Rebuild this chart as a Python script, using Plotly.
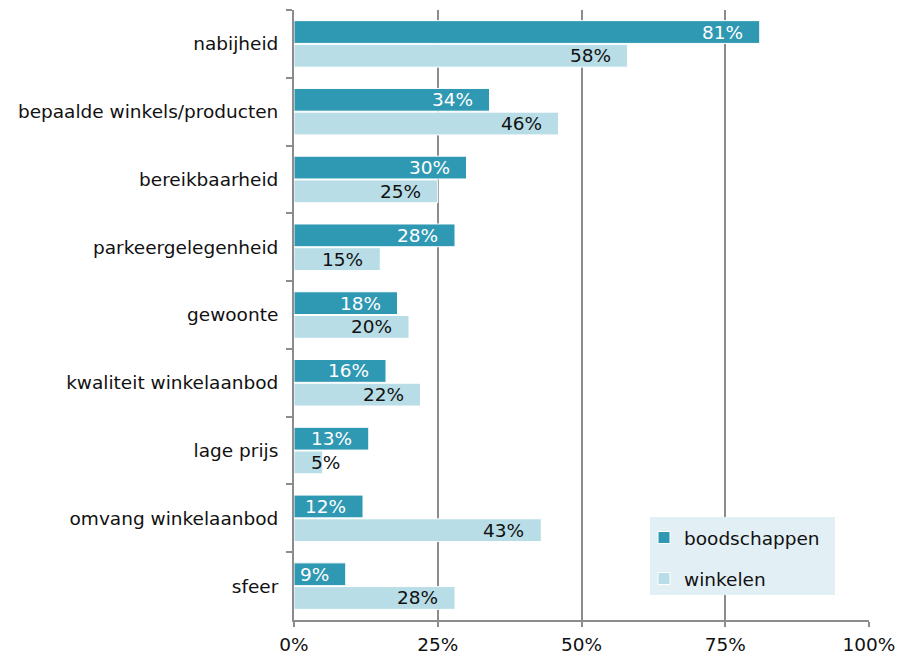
import plotly.graph_objects as go

categories = [
    "nabijheid",
    "bepaalde winkels/producten",
    "bereikbaarheid",
    "parkeergelegenheid",
    "gewoonte",
    "kwaliteit winkelaanbod",
    "lage prijs",
    "omvang winkelaanbod",
    "sfeer",
]
boodschappen = [81, 34, 30, 28, 18, 16, 13, 12, 9]
winkelen = [58, 46, 25, 15, 20, 22, 5, 43, 28]
x_ticks = [0, 25, 50, 75, 100]
x_tick_labels = ["0%", "25%", "50%", "75%", "100%"]

DARK = "#2f98b3"
LIGHT = "#b8dde6"
GRID = "#8c8c8c"
FONT = "DejaVu Sans"
FS = 18.5
BARGAP = 0.3

# plot area in pixels, used to place the legend panel
L, R, T, B = 294, 28, 10, 35
W, H = 897, 655
PW, PH = W - L - R, H - T - B


def px_x(px):
    return (px - L) / PW


def px_y(py):
    return (H - B - py) / PH


fig = go.Figure()
fig.add_trace(go.Bar(
    y=categories, x=boodschappen, orientation="h", name="boodschappen",
    marker=dict(color=DARK, line=dict(color="white", width=1)),
    legendgroup="a",
))
fig.add_trace(go.Bar(
    y=categories, x=winkelen, orientation="h", name="winkelen",
    marker=dict(color=LIGHT, line=dict(color="white", width=1)),
    legendgroup="b",
))

# value labels near the end of each bar
half = (1 - BARGAP) / 4
annotations = []
for series, sign, color in ((boodschappen, -1, "white"), (winkelen, 1, "#111111")):
    for i, v in enumerate(series):
        small = v < 8
        annotations.append(dict(
            x=0 if small else v, y=i + sign * half,
            xref="x", yref="y",
            text=f"{v}%", showarrow=False,
            xanchor="left" if small else "right",
            xshift=15 if small else -15,
            font=dict(family=FONT, size=FS, color=color),
        ))

fig.update_layout(
    width=W, height=H,
    margin=dict(l=L, r=R, t=T, b=B, autoexpand=False),
    paper_bgcolor="white", plot_bgcolor="white",
    barmode="group", bargap=BARGAP, bargroupgap=0.04,
    font=dict(family=FONT, size=FS, color="#111111"),
    annotations=annotations,
    shapes=[dict(
        type="rect", xref="paper", yref="paper",
        x0=px_x(650), x1=px_x(835), y0=px_y(595), y1=px_y(517),
        fillcolor="#e2f0f5", line=dict(width=0), layer="above",
    )],
    showlegend=True,
    legend=dict(
        x=px_x(644), y=px_y(519), xanchor="left", yanchor="top",
        bgcolor="rgba(0,0,0,0)", borderwidth=0,
        font=dict(family=FONT, size=FS, color="#111111"),
        tracegroupgap=14, traceorder="grouped",
    ),
    xaxis=dict(
        range=[0, 100], tickvals=x_ticks, ticktext=x_tick_labels,
        showgrid=True, gridcolor=GRID, gridwidth=2,
        showline=True, linecolor=GRID, linewidth=2,
        ticks="outside", ticklen=5, tickcolor=GRID, tickwidth=2,
        ticklabelstandoff=2,
        zeroline=False, fixedrange=True, automargin=False,
    ),
    yaxis=dict(
        autorange="reversed", type="category", automargin=False,
        showgrid=False, showline=True, linecolor=GRID, linewidth=2,
        ticks="outside", ticklen=6, tickcolor=GRID, tickwidth=2,
        tickson="boundaries", ticklabelstandoff=10,
    ),
)

fig.write_html("out.html")
